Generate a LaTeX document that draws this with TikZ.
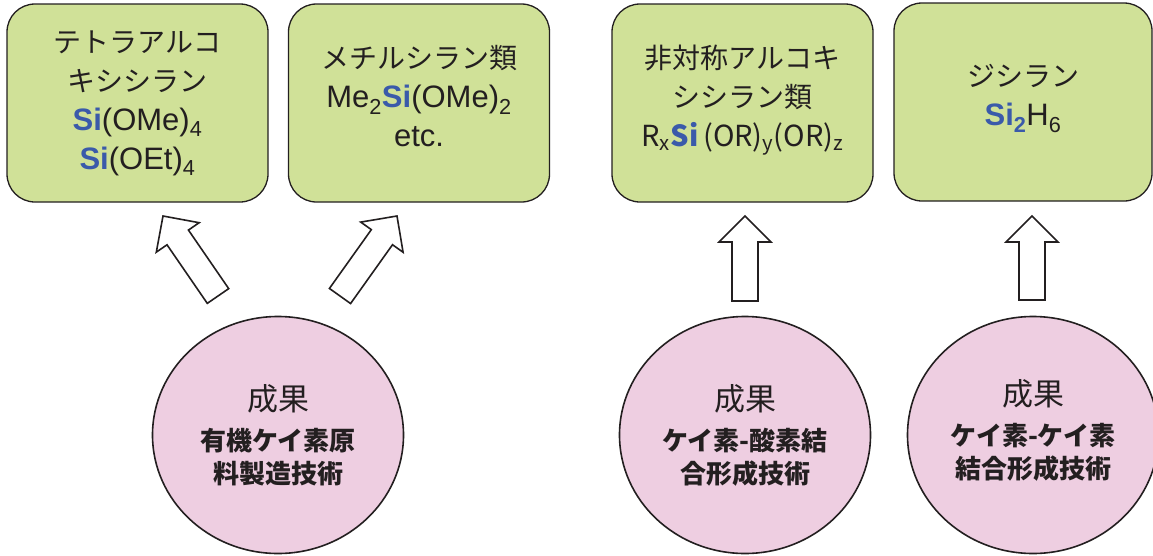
\documentclass[tikz,border=0pt]{standalone}
\usepackage{fontspec}
\setmainfont{Liberation Sans}
\newfontfamily\jp{Noto Sans CJK JP}
\usetikzlibrary{calc,shapes.geometric}

\definecolor{boxgreen}{RGB}{208,225,152}
\definecolor{circpink}{RGB}{238,206,225}
\definecolor{siblue}{RGB}{58,90,170}
\definecolor{ink}{RGB}{35,31,32}

\newcommand{\SiB}{\textcolor{siblue}{\textbf{Si}}}
\newcommand{\jtext}[1]{{\jp\fontsize{28}{39}\selectfont #1}}
% hollow block arrow, #1 = tail, #2 = tip
\newcommand{\hollowarrow}[2]{%
  \coordinate (#1base) at ($(#2)!26pt!(#1)$);
  \draw[hollow] ($(#1)!13pt!90:(#2)$) -- ($(#1base)!13pt!90:(#2)$)
    -- ($(#1base)!26pt!90:(#2)$) -- (#2) -- ($(#1base)!26pt!-90:(#2)$)
    -- ($(#1base)!13pt!-90:(#2)$) -- ($(#1)!13pt!-90:(#2)$) -- cycle;}

\begin{document}
\begin{tikzpicture}[x=1pt, y=-1pt,
    box/.style={draw=ink, line width=1.3pt, fill=boxgreen, rounded corners=28pt,
      minimum width=261pt, minimum height=198pt, align=center, text=ink,
      font=\fontsize{31}{39}\selectfont},
    result/.style={ellipse, draw=ink, line width=1.6pt, fill=circpink,
      minimum width=251pt, minimum height=237pt, align=center, text=ink,
      font=\jp\bfseries\fontsize{26}{33}\selectfont},
    hollow/.style={draw=ink, line width=1.6pt, fill=white}]

    \useasboundingbox (0,0) rectangle (1153,555);

    % Products on top
    \node[box] (b1) at (137.5,103) {\jtext{テトラアルコ}\\\jtext{キシシラン}\\
      \SiB(OMe)\textsubscript{4}\\\SiB(OEt)\textsubscript{4}};
    \node[box] (b2) at (419,103) {\jtext{メチルシラン類}\\
      Me\textsubscript{2}\SiB(OMe)\textsubscript{2}\\etc.\\[-25pt]};
    \node[box] (b3) at (742.5,103) {\jtext{非対称アルコキ}\\\jtext{シシラン類}\\
      {\jp\fontsize{29}{39}\selectfont R\textsubscript{x}\SiB\,(OR)\textsubscript{y}(OR)\textsubscript{z}}\\[-25pt]};
    \node[box, minimum width=258pt] (b4) at (1023,102) {\jtext{ジシラン}\\
      \SiB\textsubscript{\textcolor{siblue}{\textbf{2}}}H\textsubscript{6}\\[-25pt]};

    % Results below
    \node[result] (c1) at (278,435) {{\mdseries\fontsize{31}{33}\selectfont 成果}\\[7pt]
      有機ケイ素原\\料製造技術};
    \node[result] (c2) at (745,435) {{\mdseries\fontsize{31}{33}\selectfont 成果}\\[7pt]
      ケイ素-酸素結\\合形成技術};
    \node[result] (c3) at (1033,435) {{\mdseries\fontsize{31}{33}\selectfont 成果}\\[7pt]
      ケイ素-ケイ素\\結合形成技術\\[-20pt]};

    % Arrows from results to products
    \coordinate (t1) at (218,296); \coordinate (h1) at (163,216);
    \coordinate (t2) at (340,296); \coordinate (h2) at (397,216);
    \coordinate (t3) at (745,301); \coordinate (h3) at (745,216);
    \coordinate (t4) at (1032,300); \coordinate (h4) at (1032,216);
    \hollowarrow{t1}{h1}
    \hollowarrow{t2}{h2}
    \hollowarrow{t3}{h3}
    \hollowarrow{t4}{h4}
\end{tikzpicture}
\end{document}
